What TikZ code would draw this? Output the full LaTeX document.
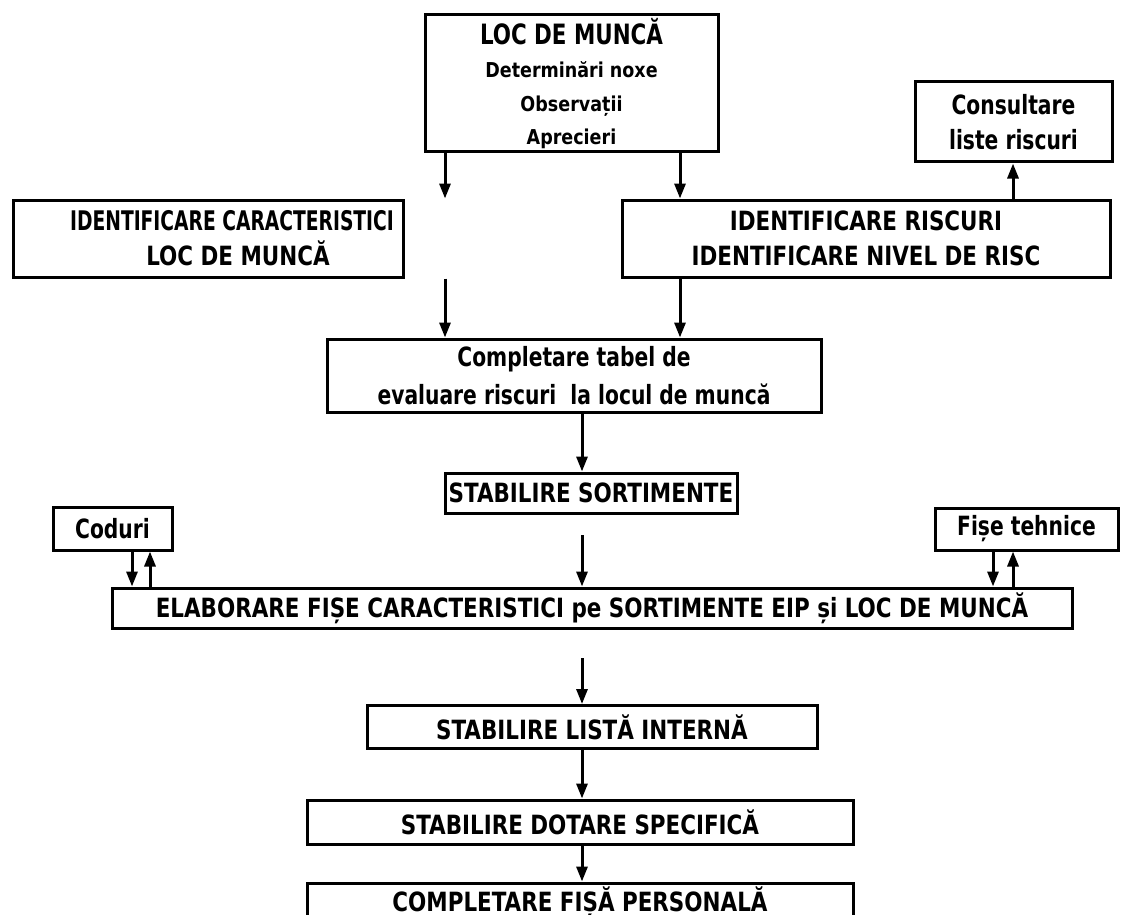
\documentclass[tikz,border=0pt]{standalone}
\usepackage{fontspec}
\setmainfont{DejaVu Sans Condensed}
\newfontfamily\fCaps{DejaVu Sans Condensed}[FakeStretch=0.9]
\newfontfamily\fMix{DejaVu Sans Condensed}[FakeStretch=0.85]
\newfontfamily\fTight{DejaVu Sans Condensed}[FakeStretch=0.77]
\newfontfamily\fSub{DejaVu Sans Condensed}[FakeStretch=0.95]
\usetikzlibrary{arrows.meta}
\tikzset{
  box/.style={draw, line width=3pt, inner sep=0pt, align=center,
    font=\fCaps\bfseries\fontsize{26.5}{35}\selectfont},
  mixbox/.style={box, font=\fMix\bfseries\fontsize{26.5}{35}\selectfont},
  arr/.style={-{Triangle[length=15pt,width=11pt]}, line width=3pt},
}
\begin{document}
\begin{tikzpicture}[x=1pt,y=-1pt]
\useasboundingbox[fill=white] (0,0) rectangle (1122,915);
\node[box, minimum width=293pt, minimum height=137pt,
  font=\fSub\bfseries\fontsize{20.5}{33.5}\selectfont] (loc) at (571.5,83.5)
  {{\fMix\fontsize{28}{33.5}\selectfont LOC DE MUNCĂ}\\Determinări noxe\\Observații\\Aprecieri};
\node[mixbox, minimum width=197pt, minimum height=80pt] (cons) at (1013.5,122)
  {Consultare\\liste riscuri};
\node[box, minimum width=390pt, minimum height=77pt] (idc) at (208,238.5)
  {{\fTight\fontsize{27}{35}\selectfont IDENTIFICARE CARACTERISTICI}\hspace*{-48pt}\\\hspace*{60pt}LOC DE MUNCĂ};
\node[box, minimum width=488pt, minimum height=77pt] (idr) at (866,238.5)
  {IDENTIFICARE RISCURI\\IDENTIFICARE NIVEL DE RISC};
\node[mixbox, minimum width=494pt, minimum height=73pt,
  font=\fMix\bfseries\fontsize{26.5}{38}\selectfont] (compl) at (574,375.5)
  {\raisebox{-6pt}{Completare tabel de}\\\raisebox{-6pt}{evaluare riscuri\ \ la locul de muncă}};
\node[box, minimum width=292pt, minimum height=40pt] (sort) at (591,493)
  {STABILIRE SORTIMENTE};
\node[mixbox, minimum width=119pt, minimum height=43pt] (cod) at (112.5,528.5) {Coduri};
\node[mixbox, minimum width=183pt, minimum height=42pt] (fis) at (1026.5,529) {Fișe tehnice};
\node[box, minimum width=960pt, minimum height=40pt] (elab) at (592,608)
  {ELABORARE FIȘE CARACTERISTICI pe SORTIMENTE EIP și LOC DE MUNCĂ};
\node[box, minimum width=450pt, minimum height=43pt] (lista) at (592,727)
  {STABILIRE LISTĂ INTERNĂ};
\node[box, minimum width=546pt, minimum height=44pt] (dot) at (580,822)
  {STABILIRE DOTARE SPECIFICĂ};
\node[box, minimum width=546pt, minimum height=44pt] (cfp) at (580,905)
  {\raisebox{11pt}{COMPLETARE FIȘĂ PERSONALĂ}};
% x positions of connectors
\coordinate (xa) at (445,0);
\coordinate (xb) at (680,0);
\coordinate (xc) at (1013,0);
\coordinate (xm) at (582,0);
\coordinate (xd) at (132,0);
\coordinate (xe) at (150,0);
\coordinate (xf) at (993,0);
\coordinate (xg) at (1013,0);
\coordinate (g1) at (582,535);
\coordinate (g2) at (582,658);
% connectors
\draw[arr] (loc.south -| xa) -- (idc.north -| xa);
\draw[arr] (loc.south -| xb) -- (idr.north -| xb);
\draw[arr] (idr.north -| xc) -- (cons.south -| xc);
\draw[arr] (idc.south -| xa) -- (compl.north -| xa);
\draw[arr] (idr.south -| xb) -- (compl.north -| xb);
\draw[arr] (compl.south -| xm) -- (sort.north -| xm);
\draw[arr] (g1) -- (elab.north -| g1);
\draw[arr] (cod.south -| xd) -- (elab.north -| xd);
\draw[arr] (elab.north -| xe) -- (cod.south -| xe);
\draw[arr] (fis.south -| xf) -- (elab.north -| xf);
\draw[arr] (elab.north -| xg) -- (fis.south -| xg);
\draw[arr] (g2) -- (lista.north -| g2);
\draw[arr] (lista.south -| xm) -- (dot.north -| xm);
\draw[arr] (dot.south -| xm) -- (cfp.north -| xm);
\end{tikzpicture}
\end{document}
